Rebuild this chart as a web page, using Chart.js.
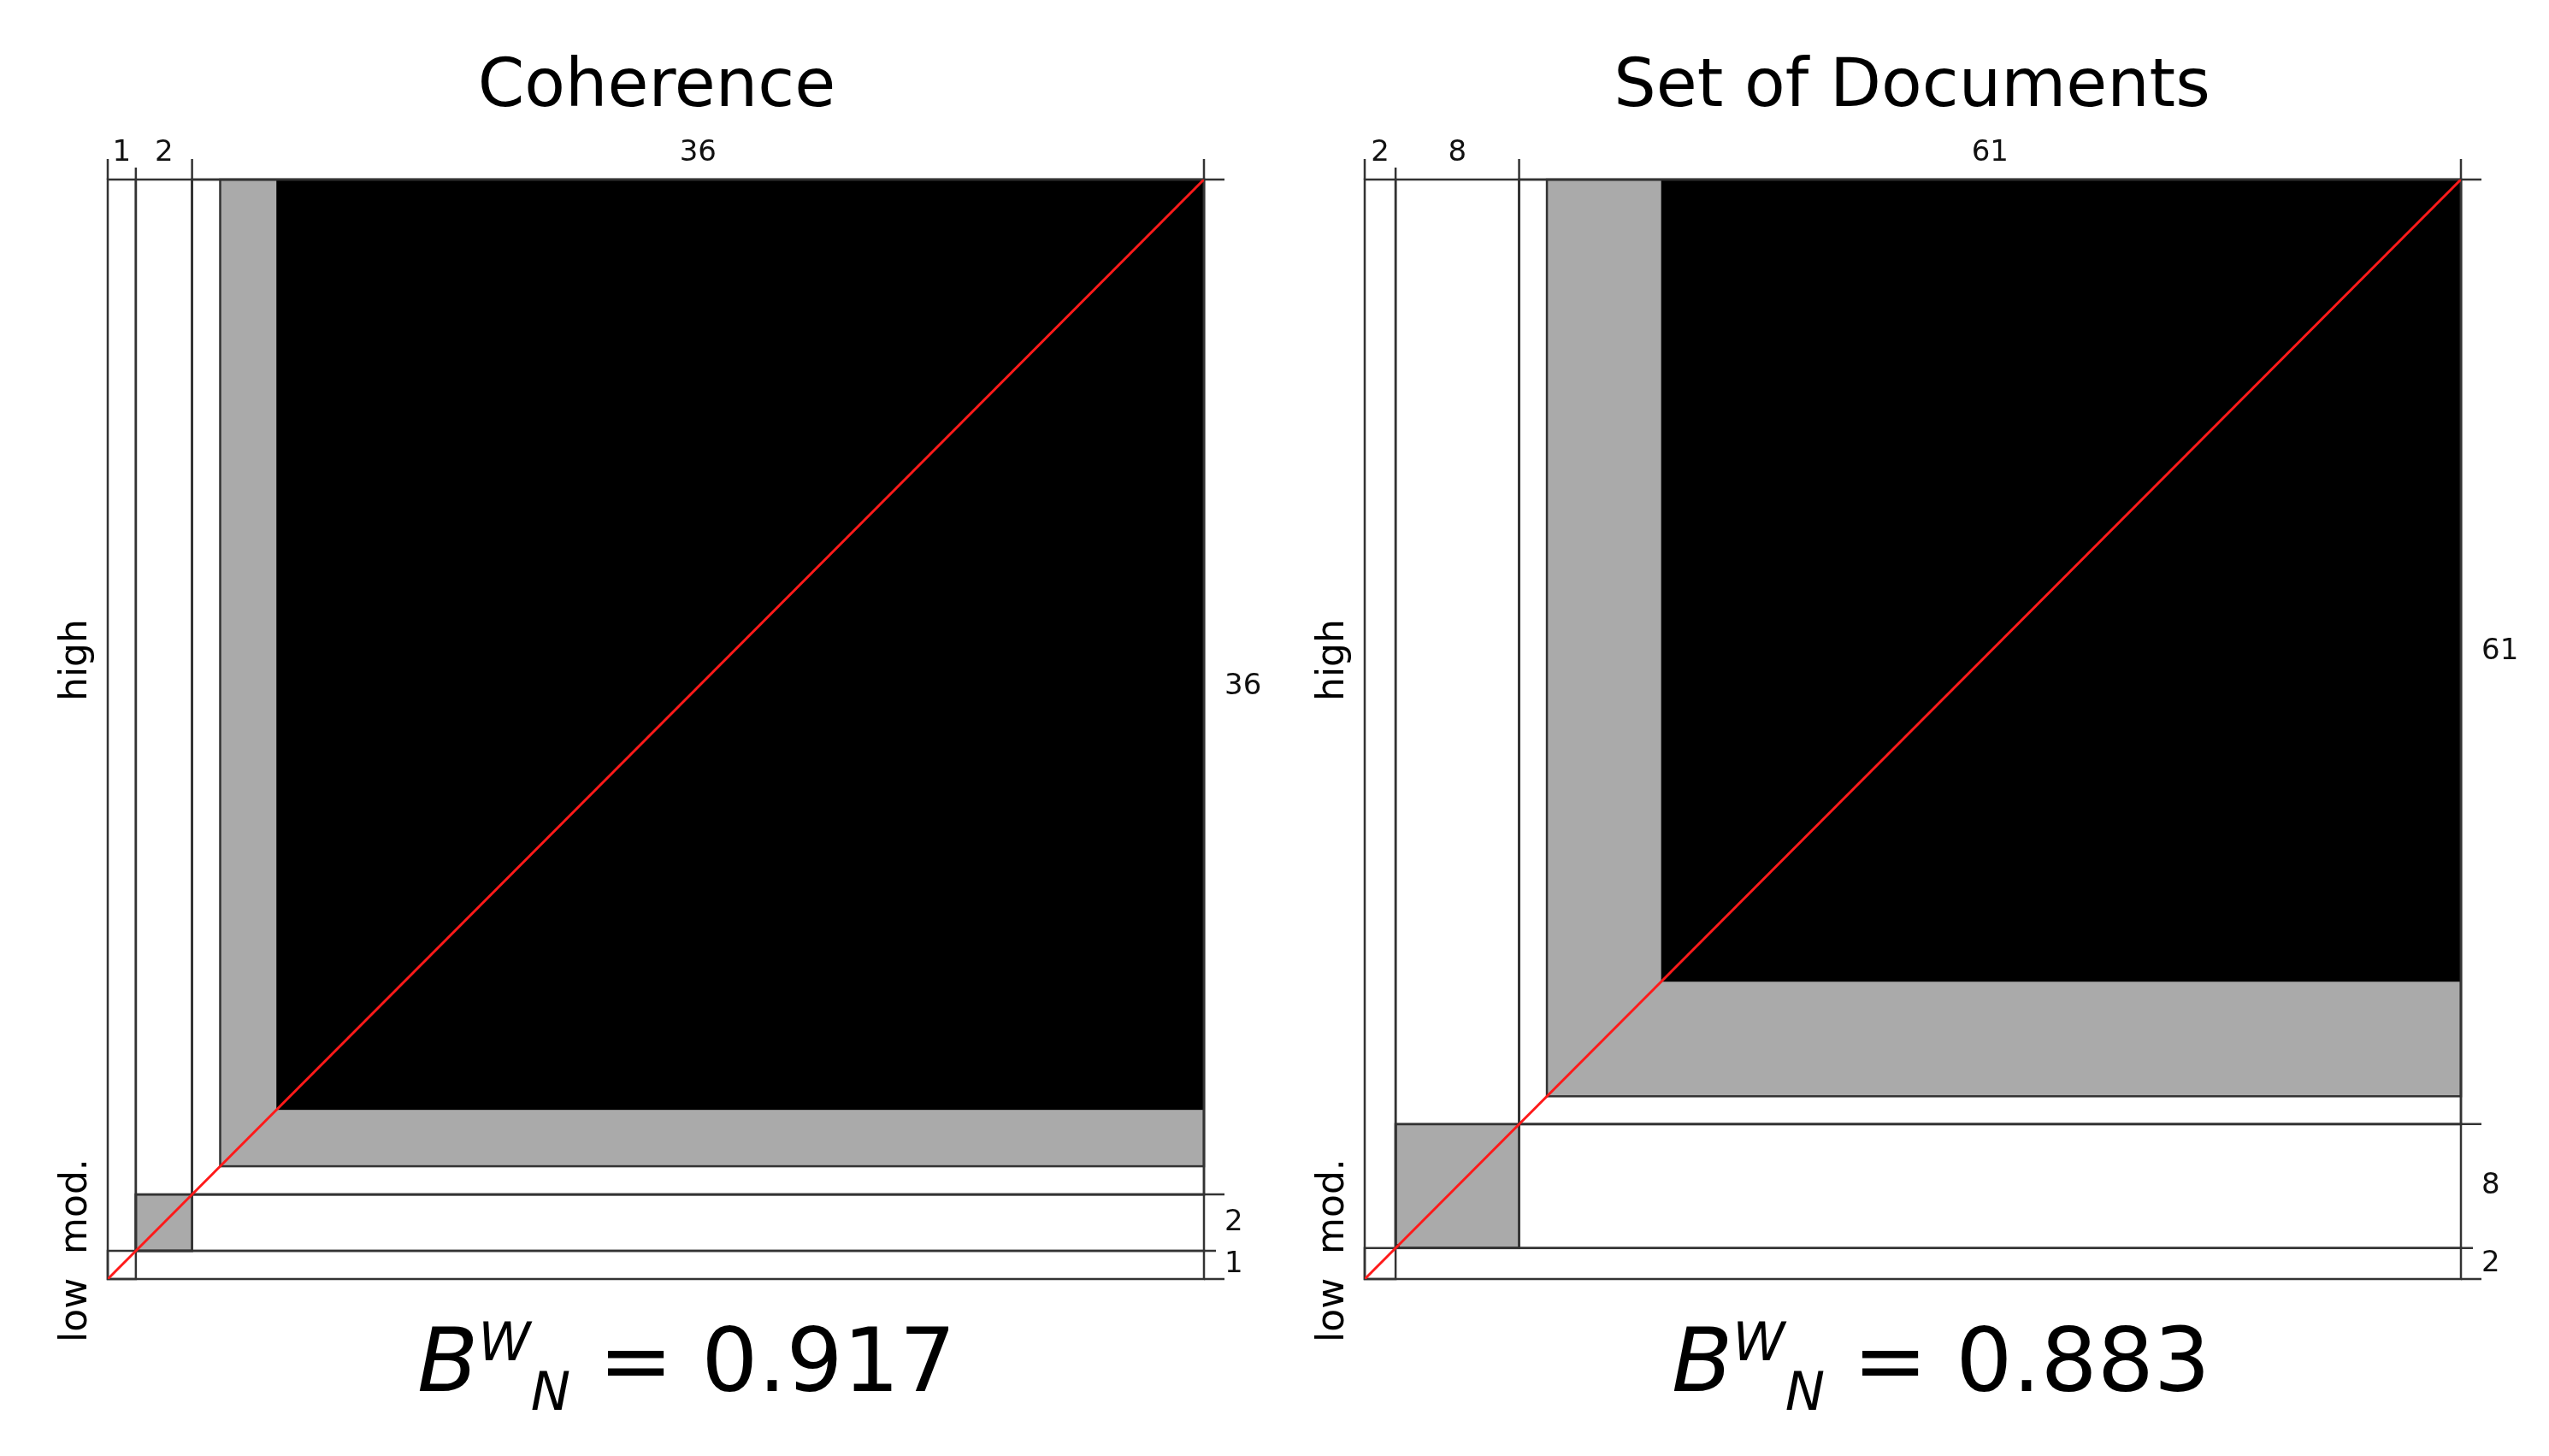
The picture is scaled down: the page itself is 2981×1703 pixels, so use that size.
<!DOCTYPE html>
<html>
<head>
<meta charset="utf-8">
<script src="https://cdn.jsdelivr.net/npm/chart.js@4/dist/chart.umd.min.js"></script>
<style>
  body { margin: 0; background: #fff; font-family: "DejaVu Sans", sans-serif; }
  #wrap { position: relative; width: 2981px; height: 1703px; }
  canvas { position: absolute; top: 0; }
  .title { position: absolute; top: 52px; font-size: 78px; text-align: center; width: 1300px; }
  .side { position: absolute; font-size: 44px; transform: rotate(-90deg); transform-origin: left top; white-space: nowrap; }
  .bw { position: absolute; top: 1530px; font-size: 104px; text-align: center; width: 900px; }
  .bw i { font-style: italic; }
  .bw sup, .bw sub { font-size: 62px; font-style: italic; }
</style>
</head>
<body>
<div id="wrap">
  <canvas id="c1"></canvas>
  <canvas id="c2"></canvas>
  <div class="title" style="left:118px">Coherence</div>
  <div class="title" style="left:1586px">Set of Documents</div>
  <div class="side" style="left:60px;top:820px">high</div>
  <div class="side" style="left:60px;top:1570px">low&nbsp;&nbsp;mod.</div>
  <div class="side" style="left:1530px;top:820px">high</div>
  <div class="side" style="left:1530px;top:1570px">low&nbsp;&nbsp;mod.</div>
  <div class="bw" style="left:353px"><i>B</i><sup>W</sup><sub>N</sub> = 0.917</div>
  <div class="bw" style="left:1820px"><i>B</i><sup>W</sup><sub>N</sub> = 0.883</div>
</div>
<script>
// group sizes (low, mod, high)
const groupsLeft = [1, 2, 36];
const groupsRight = [2, 8, 61];
// where the grey and black squares start inside each group (null = none)
const greyLeft = [null, 1, 4];
const blackLeft = [null, null, 6];
const greyRight = [null, 2, 11.8];
const blackRight = [null, 2, 19.2];
const blackRightEnd = [null, 2.25, null];

function blockPlugin(groups, grey, black, blackEnd) {
  return {
    id: "blocks",
    beforeDatasetsDraw(chart) {
      const ctx = chart.ctx, xs = chart.scales.x, ys = chart.scales.y;
      const total = groups.reduce((a, b) => a + b, 0);
      const px = v => xs.getPixelForValue(v), py = v => ys.getPixelForValue(v);
      let starts = [], s = 0;
      groups.forEach(n => { starts.push(s); s += n; });
      ctx.save();
      // filled squares
      groups.forEach((n, i) => {
        const end = i === groups.length - 1 ? total : starts[i] + n;
        if (grey[i] !== null) {
          ctx.fillStyle = "#aaaaaa";
          ctx.fillRect(px(grey[i]), py(end), px(end) - px(grey[i]), py(grey[i]) - py(end));
          ctx.strokeStyle = "#333"; ctx.lineWidth = 2.5;
          ctx.strokeRect(px(grey[i]), py(end), px(end) - px(grey[i]), py(grey[i]) - py(end));
        }
        if (black[i] !== null) {
          const be = blackEnd[i] !== null ? blackEnd[i] : end;
          ctx.fillStyle = "#000";
          ctx.fillRect(px(black[i]), py(be), px(be) - px(black[i]), py(black[i]) - py(be));
        }
      });
      // group outlines
      ctx.strokeStyle = "#333"; ctx.lineWidth = 2.5;
      groups.forEach((n, i) => {
        const a = starts[i], b = a + n;
        ctx.strokeRect(px(a), py(b), px(total) - px(a), py(a) - py(b));
        ctx.strokeRect(px(a), py(total), px(b) - px(a), py(a) - py(total));
      });
      // ticks and labels
      ctx.fillStyle = "#111"; ctx.font = "34px 'DejaVu Sans'";
      const bounds = [0, ...starts.slice(1), total];
      bounds.forEach((v, k) => {
        const len = (k === 0 || k === bounds.length - 1 || v === starts[starts.length - 1]) ? 24 : 14;
        ctx.beginPath();
        ctx.moveTo(px(v), py(total)); ctx.lineTo(px(v), py(total) - len);
        ctx.moveTo(px(total), py(v)); ctx.lineTo(px(total) + len, py(v));
        ctx.stroke();
      });
      groups.forEach((n, i) => {
        const mid = starts[i] + n / 2;
        ctx.textAlign = "center"; ctx.textBaseline = "bottom";
        ctx.fillText(String(n), px(mid), py(total) - 14);
        ctx.textAlign = "left"; ctx.textBaseline = "middle";
        ctx.fillText(String(n), px(total) + 24, py(mid));
      });
      ctx.restore();
    }
  };
}

function makeChart(id, left, width, pad, groups, grey, black, blackEnd) {
  const el = document.getElementById(id);
  el.style.left = left + "px";
  el.style.width = width + "px"; el.style.height = "1703px";
  el.width = width; el.height = 1703;
  const total = groups.reduce((a, b) => a + b, 0);
  return new Chart(el, {
    type: "scatter",
    data: { datasets: [{
      data: [{ x: 0, y: 0 }, { x: total, y: total }],
      showLine: true, borderColor: "#ff1a1a", borderWidth: 3, pointRadius: 0
    }] },
    options: {
      responsive: false, animation: false,
      layout: { padding: pad },
      plugins: { legend: { display: false }, tooltip: { enabled: false } },
      scales: {
        x: { type: "linear", min: 0, max: total, display: false },
        y: { type: "linear", min: 0, max: total, display: false }
      }
    },
    plugins: [blockPlugin(groups, grey, black, blackEnd)]
  });
}

makeChart("c1", 0, 1490, { left: 126, top: 210, right: 82, bottom: 207 },
  groupsLeft, greyLeft, blackLeft, [null, null, null]);
makeChart("c2", 1490, 1491, { left: 106, top: 210, right: 103, bottom: 207 },
  groupsRight, greyRight, blackRight, blackRightEnd);
</script>
</body>
</html>
